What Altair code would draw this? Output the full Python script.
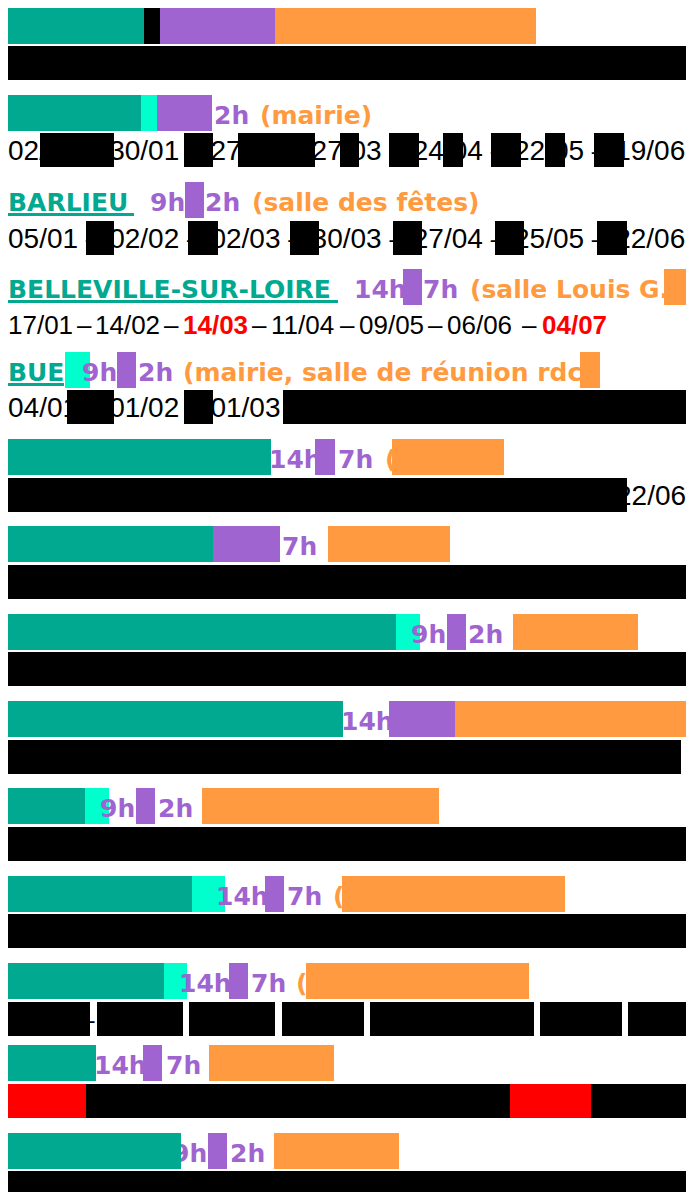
import altair as alt
import pandas as pd

TEAL = "#00A98F"
CYAN = "#00FFCC"
PURPLE = "#A064D0"
ORANGE = "#FF9A40"
BLACK = "#000000"
RED = "#FF0000"

# top of each title line / date line
title_top = [6, 93, 180, 267, 350, 437, 524, 612, 699, 786, 874, 961, 1043, 1131]
date_top = [44, 131, 219, 305, 388, 476, 563, 650, 738, 825, 912, 1000, 1082, 1169]

# redaction blocks: row, line (t = title, d = dates), start, end, colour
blk_row = [0, 0, 0, 0, 0,
           1, 1, 1, 1, 1, 1, 1, 1, 1, 1, 1, 1,
           2, 2, 2, 2, 2, 2, 2,
           3, 3,
           4, 4, 4, 4, 4, 4,
           5, 5, 5, 5,
           6, 6, 6, 6,
           7, 7, 7, 7, 7,
           8, 8, 8, 8,
           9, 9, 9, 9, 9,
           10, 10, 10, 10, 10,
           11, 11, 11, 11, 11, 11, 11, 11, 11, 11, 11,
           12, 12, 12, 12, 12, 12, 12,
           13, 13, 13, 13]
blk_line = ["t", "t", "t", "t", "d",
            "t", "t", "t", "d", "d", "d", "d", "d", "d", "d", "d", "d",
            "t", "d", "d", "d", "d", "d", "d",
            "t", "t",
            "t", "t", "t", "d", "d", "d",
            "t", "t", "t", "d",
            "t", "t", "t", "d",
            "t", "t", "t", "t", "d",
            "t", "t", "t", "d",
            "t", "t", "t", "t", "d",
            "t", "t", "t", "t", "d",
            "t", "t", "t", "t", "d", "d", "d", "d", "d", "d", "d",
            "t", "t", "t", "d", "d", "d", "d",
            "t", "t", "t", "d"]
blk_x0 = [6, 142, 158, 273, 6,
          6, 139, 155, 38, 182, 236, 338, 387, 441, 489, 543, 592,
          183, 84, 186, 288, 391, 493, 595,
          401, 662,
          63, 115, 578, 65, 182, 281,
          6, 313, 390, 6,
          6, 211, 326, 6,
          6, 394, 445, 511, 6,
          6, 387, 453, 6,
          6, 83, 134, 200, 6,
          6, 190, 263, 340, 6,
          6, 162, 227, 304, 6, 95, 187, 280, 368, 538, 626,
          6, 141, 207, 6, 84, 508, 589,
          6, 206, 272, 6]
blk_x1 = [142, 158, 273, 534, 694,
          139, 155, 210, 112, 211, 313, 357, 417, 461, 519, 563, 622,
          202, 112, 216, 317, 420, 522, 625,
          420, 685,
          88, 134, 598, 112, 211, 694,
          269, 333, 502, 625,
          211, 278, 448, 691,
          394, 418, 464, 636, 688,
          341, 453, 689, 679,
          83, 107, 153, 437, 694,
          190, 223, 282, 563, 694,
          162, 185, 246, 527, 88, 181, 273, 362, 532, 620, 694,
          94, 160, 332, 84, 508, 589, 694,
          179, 225, 397, 687]
blk_col = [TEAL, BLACK, PURPLE, ORANGE, BLACK,
           TEAL, CYAN, PURPLE] + [BLACK] * 9 + \
          [PURPLE] + [BLACK] * 6 + \
          [PURPLE, ORANGE] + \
          [CYAN, PURPLE, ORANGE, BLACK, BLACK, BLACK] + \
          [TEAL, PURPLE, ORANGE, BLACK] + \
          [TEAL, PURPLE, ORANGE, BLACK] + \
          [TEAL, CYAN, PURPLE, ORANGE, BLACK] + \
          [TEAL, PURPLE, ORANGE, BLACK] + \
          [TEAL, CYAN, PURPLE, ORANGE, BLACK] + \
          [TEAL, CYAN, PURPLE, ORANGE, BLACK] + \
          [TEAL, CYAN, PURPLE, ORANGE] + [BLACK] * 7 + \
          [TEAL, PURPLE, ORANGE, RED, BLACK, RED, BLACK] + \
          [TEAL, PURPLE, ORANGE, BLACK]

# title texts: row, start, text, colour
tt_row = [1, 1, 2, 2, 2, 2, 3, 3, 3, 3, 4, 4, 4, 4, 5, 5, 5, 6, 7, 7, 8, 9, 9, 10, 10, 10, 11, 11, 11, 12, 12, 13, 13]
tt_x = [212, 258, 6, 148, 203, 250, 6, 352, 421, 468, 6, 80, 136, 181, 267, 336, 383, 280, 409, 466, 339,
        98, 156, 214, 285, 331, 177, 249, 294, 92, 164, 170, 228]
tt_text = ["2h", "(mairie)", "BARLIEU", "9h", "2h", "(salle des fêtes)",
           "BELLEVILLE-SUR-LOIRE", "14h", "7h", "(salle Louis G.",
           "BUE", "9h", "2h", "(mairie, salle de réunion rdc",
           "14h", "7h", "(", "7h", "9h", "2h", "14h",
           "9h", "2h", "14h", "7h", "(", "14h", "7h", "(", "14h", "7h", "9h", "2h"]
tt_col = [PURPLE, ORANGE, TEAL, PURPLE, PURPLE, ORANGE,
          TEAL, PURPLE, PURPLE, ORANGE,
          TEAL, PURPLE, PURPLE, ORANGE,
          PURPLE, PURPLE, ORANGE, PURPLE, PURPLE, PURPLE, PURPLE,
          PURPLE, PURPLE, PURPLE, PURPLE, ORANGE, PURPLE, PURPLE, ORANGE, PURPLE, PURPLE, PURPLE, PURPLE]

# underlined town names: row, start, end
ul_row = [2, 3, 4]
ul_x0 = [6, 6, 6]
ul_x1 = [132, 336, 62]

# date lines (partly hidden): row, start, text, font size
dl_row = [1, 2, 4, 5, 11]
dl_x = [6, 6, 6, 614, 77]
dl_text = ["02/01 – 30/01 – 27/02 – 27/03 – 24/04 – 22/05 – 19/06",
           "05/01 – 02/02 – 02/03 – 30/03 – 27/04 – 25/05 – 22/06",
           "04/01 – 01/02 – 01/03 – 29/03 – 26/04 – 24/05 – 21/06",
           "22/06",
           "–"]
dl_size = [28, 28, 28, 28, 28]

# Belleville-sur-Loire dates (row 3): start, text, colour, bold
bv_x = [6, 75, 93, 162, 181, 250, 269, 338, 357, 426, 445, 520, 540]
bv_text = ["17/01", "–", "14/02", "–", "14/03", "–", "11/04", "–", "09/05", "–", "06/06", "–", "04/07"]
bv_col = [BLACK, BLACK, BLACK, BLACK, RED, BLACK, BLACK, BLACK, BLACK, BLACK, BLACK, BLACK, RED]
bv_bold = [False, False, False, False, True, False, False, False, False, False, False, False, True]

TITLE_H = 36
DATE_H = 34

blocks = pd.DataFrame({
    "x": blk_x0, "x2": blk_x1,
    "y": [(title_top if l == "t" else date_top)[r] for r, l in zip(blk_row, blk_line)],
    "col": blk_col,
})
blocks["y2"] = [y + (TITLE_H if l == "t" else DATE_H) for y, l in zip(blocks["y"], blk_line)]

titles = pd.DataFrame({
    "x": tt_x, "y": [title_top[r] + 29 for r in tt_row], "text": tt_text, "col": tt_col,
})
unders = pd.DataFrame({
    "x": ul_x0, "x2": ul_x1,
    "y": [title_top[r] + 31 for r in ul_row], "y2": [title_top[r] + 34 for r in ul_row],
})
dlines = pd.DataFrame({
    "x": dl_x, "y": [date_top[r] + 27 for r in dl_row], "text": dl_text, "col": BLACK, "fs": dl_size,
})
bv = pd.DataFrame({
    "x": bv_x, "y": date_top[3] + 27, "text": bv_text, "col": bv_col, "bold": bv_bold,
})

# page margin is 8px: the plot area shows content from 6 to 684 / 6 to 1190
W, H = 678, 1184
xs = alt.Scale(domain=[6, 6 + W], nice=False, zero=False)
ys = alt.Scale(domain=[6, 6 + H], nice=False, zero=False, reverse=True)


def X(f="x"):
    return alt.X(f"{f}:Q", scale=xs, axis=None)


def Y(f="y"):
    return alt.Y(f"{f}:Q", scale=ys, axis=None)


colour = alt.Color("col:N", scale=None, legend=None)

cyan_layer = alt.Chart(blocks[blocks["col"] == CYAN]).mark_rect().encode(
    x=X(), x2="x2:Q", y=Y(), y2="y2:Q", color=colour)
other_layer = alt.Chart(blocks[blocks["col"] != CYAN]).mark_rect().encode(
    x=X(), x2="x2:Q", y=Y(), y2="y2:Q", color=colour)
under_layer = alt.Chart(unders).mark_rect(color=TEAL).encode(
    x=X(), x2="x2:Q", y=Y(), y2="y2:Q")
title_layer = alt.Chart(titles).mark_text(
    align="left", baseline="alphabetic", font="DejaVu Sans", fontWeight="bold", fontSize=25
).encode(x=X(), y=Y(), text="text:N", color=colour)
dline_layer = alt.Chart(dlines).mark_text(
    align="left", baseline="alphabetic", font="Liberation Sans"
).encode(x=X(), y=Y(), text="text:N", color=colour,
         size=alt.Size("fs:Q", scale=None, legend=None))
bv_layer = alt.Chart(bv[~bv["bold"]]).mark_text(
    align="left", baseline="alphabetic", font="Liberation Sans", fontSize=26
).encode(x=X(), y=Y(), text="text:N", color=colour)
bv_bold_layer = alt.Chart(bv[bv["bold"]]).mark_text(
    align="left", baseline="alphabetic", font="Liberation Sans", fontWeight="bold", fontSize=26
).encode(x=X(), y=Y(), text="text:N", color=colour)

chart = alt.layer(
    cyan_layer, title_layer, dline_layer, bv_layer, bv_bold_layer, under_layer, other_layer
).properties(
    width=W, height=H, padding=0, autosize=alt.AutoSizeParams(type="none")
).configure_view(stroke=None)

chart.save("out.html", embed_options={"renderer": "svg", "actions": False})
